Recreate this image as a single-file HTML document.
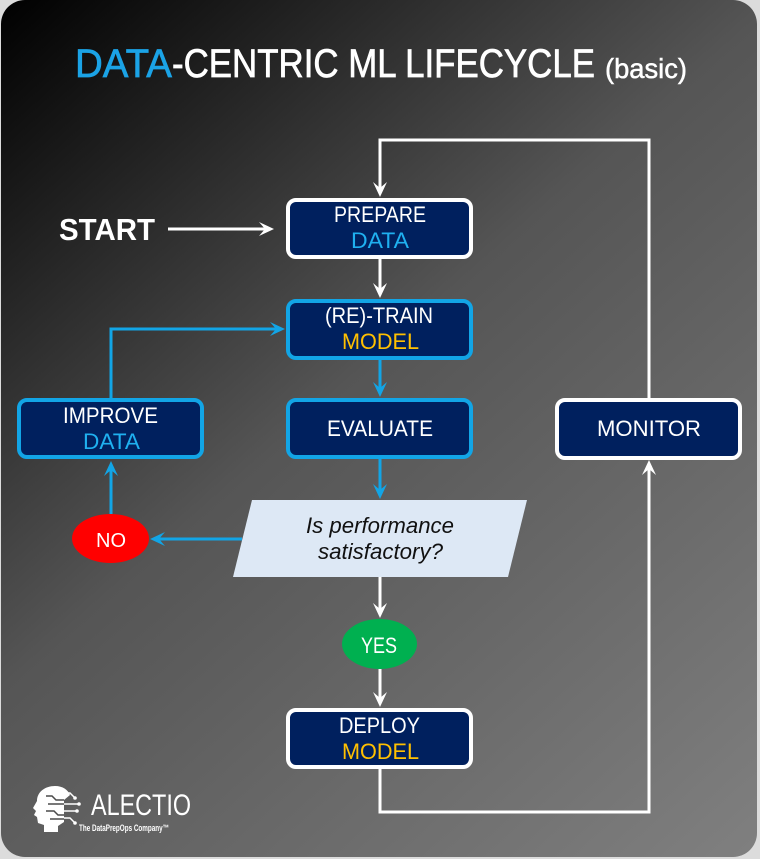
<!DOCTYPE html>
<html>
<head>
<meta charset="utf-8">
<style>
  html, body { margin: 0; padding: 0; width: 760px; height: 859px; overflow: hidden; background: #dcdcdc; }
  svg { display: block; }
  text { font-family: "Liberation Sans", "DejaVu Sans", sans-serif; }
</style>
</head>
<body>
<svg width="760" height="859" viewBox="0 0 760 859" xmlns="http://www.w3.org/2000/svg">
  <defs>
    <linearGradient id="bg" gradientUnits="userSpaceOnUse" x1="0" y1="0" x2="760" y2="859">
      <stop offset="0" stop-color="#000000"/>
      <stop offset="0.45" stop-color="#555555"/>
      <stop offset="1" stop-color="#808080"/>
    </linearGradient>
  </defs>

  <!-- background -->
  <rect x="0" y="0" width="760" height="859" fill="#dcdcdc"/>
  <rect x="1" y="0" width="756" height="857" rx="24" ry="24" fill="url(#bg)"/>

  <!-- title -->
  <text x="75" y="77" font-size="40" fill="#1ba3e6" stroke="#1ba3e6" stroke-width="0.7" textLength="97" lengthAdjust="spacingAndGlyphs">DATA</text>
  <text x="172" y="77" font-size="40" fill="#ffffff" stroke="#ffffff" stroke-width="0.7" textLength="423" lengthAdjust="spacingAndGlyphs">-CENTRIC ML LIFECYCLE</text>
  <text x="605" y="78" font-size="28" fill="#ffffff" stroke="#ffffff" stroke-width="0.5" textLength="82" lengthAdjust="spacingAndGlyphs">(basic)</text>

  <!-- white connectors -->
  <g fill="none" stroke="#ffffff" stroke-width="3">
    <polyline points="649,398 649,140 380,140 380,189"/>
    <line x1="168" y1="229" x2="266" y2="229"/>
    <line x1="380" y1="259" x2="380" y2="290"/>
    <line x1="380" y1="577" x2="380" y2="610"/>
    <line x1="380" y1="669" x2="380" y2="699"/>
    <polyline points="380,769 380,812 649,812 649,468"/>
  </g>
  <g fill="#ffffff">
    <path d="M380,197 L373,182 L380,188 L387,182 Z"/>
    <path d="M274,229 L259,222 L265,229 L259,236 Z"/>
    <path d="M380,298 L373,283 L380,289 L387,283 Z"/>
    <path d="M380,618 L373,603 L380,609 L387,603 Z"/>
    <path d="M380,707 L373,692 L380,698 L387,692 Z"/>
    <path d="M649,460 L642,475 L649,469 L656,475 Z"/>
  </g>

  <!-- blue connectors -->
  <g fill="none" stroke="#12a5e6" stroke-width="3">
    <line x1="380" y1="360" x2="380" y2="389"/>
    <polyline points="111,398 111,329 277,329"/>
    <line x1="380" y1="459" x2="380" y2="491"/>
    <line x1="242" y1="539" x2="158" y2="539"/>
    <line x1="111" y1="514" x2="111" y2="469"/>
  </g>
  <g fill="#12a5e6">
    <path d="M380,397 L373,382 L380,388 L387,382 Z"/>
    <path d="M285,329 L270,322 L276,329 L270,336 Z"/>
    <path d="M380,499 L373,484 L380,490 L387,484 Z"/>
    <path d="M150,539 L165,532 L159,539 L165,546 Z"/>
    <path d="M111,461 L104,476 L111,470 L118,476 Z"/>
  </g>

  <!-- boxes -->
  <g fill="#00205e" stroke-width="4">
    <rect x="288" y="200" width="183" height="57" rx="8" stroke="#ffffff"/>
    <rect x="288" y="301" width="183" height="57" rx="8" stroke="#12a5e6"/>
    <rect x="288" y="400" width="183" height="57" rx="8" stroke="#12a5e6"/>
    <rect x="19" y="400" width="183" height="57" rx="8" stroke="#12a5e6"/>
    <rect x="557" y="400" width="183" height="58" rx="8" stroke="#ffffff"/>
    <rect x="288" y="710" width="183" height="57" rx="8" stroke="#ffffff"/>
  </g>

  <!-- box labels -->
  <g font-size="22">
    <text x="334" y="222" fill="#ffffff" textLength="92" lengthAdjust="spacingAndGlyphs">PREPARE</text>
    <text x="351" y="248" fill="#1fb0f0" textLength="58" lengthAdjust="spacingAndGlyphs">DATA</text>
    <text x="325" y="323" fill="#ffffff" textLength="108" lengthAdjust="spacingAndGlyphs">(RE)-TRAIN</text>
    <text x="342" y="349" fill="#ffc000" textLength="77" lengthAdjust="spacingAndGlyphs">MODEL</text>
    <text x="327" y="436" fill="#ffffff" textLength="106" lengthAdjust="spacingAndGlyphs">EVALUATE</text>
    <text x="63" y="423" fill="#ffffff" textLength="95" lengthAdjust="spacingAndGlyphs">IMPROVE</text>
    <text x="83" y="449" fill="#1fb0f0" textLength="57" lengthAdjust="spacingAndGlyphs">DATA</text>
    <text x="597" y="436" fill="#ffffff" textLength="104" lengthAdjust="spacingAndGlyphs">MONITOR</text>
    <text x="339" y="733" fill="#ffffff" textLength="81" lengthAdjust="spacingAndGlyphs">DEPLOY</text>
    <text x="342" y="759" fill="#ffc000" textLength="77" lengthAdjust="spacingAndGlyphs">MODEL</text>
  </g>

  <!-- START -->
  <text x="59" y="240" font-size="31" font-weight="bold" fill="#ffffff" textLength="96" lengthAdjust="spacingAndGlyphs">START</text>

  <!-- decision -->
  <polygon points="252,500 527,500 508,577 233,577" fill="#dde8f5"/>
  <text x="306" y="533" font-size="22" font-style="italic" fill="#111111" textLength="148" lengthAdjust="spacingAndGlyphs">Is performance</text>
  <text x="318" y="559" font-size="22" font-style="italic" fill="#111111" textLength="125" lengthAdjust="spacingAndGlyphs">satisfactory?</text>

  <!-- NO / YES -->
  <ellipse cx="110.5" cy="538.5" rx="38.5" ry="24.5" fill="#ff0000"/>
  <text x="96" y="547" font-size="20" fill="#ffffff" textLength="30" lengthAdjust="spacingAndGlyphs">NO</text>
  <ellipse cx="379.5" cy="644" rx="37.5" ry="25" fill="#00b050"/>
  <text x="361" y="653" font-size="22" fill="#ffffff" textLength="36" lengthAdjust="spacingAndGlyphs">YES</text>

  <!-- logo -->
  <g>
    <path d="M44,832 L44,825 L38,823 L37,817 L34,815 L36,811 L33,808 L37,801 C37,792 45,786 55,786 C63,786 68,790 70,795 L64,800 L64,822 L58,826 L58,832 Z" fill="#ffffff"/>
    <g stroke="#4a4a4a" stroke-width="1.5" fill="none">
      <polyline points="46,796 52,796 56,800 64,800"/>
      <polyline points="48,804 64,804"/>
      <polyline points="46,811 54,811 58,815 64,815"/>
      <polyline points="50,819 64,819"/>
    </g>
    <g stroke="#ffffff" stroke-width="1.5" fill="none">
      <polyline points="64,793 70,793 74,797"/>
      <polyline points="64,804 78,804"/>
      <polyline points="64,811 76,811"/>
      <polyline points="64,818 70,818 74,822"/>
    </g>
    <g fill="#ffffff">
      <circle cx="75" cy="798" r="1.8"/>
      <circle cx="79" cy="804" r="1.8"/>
      <circle cx="77" cy="811" r="1.8"/>
      <circle cx="75" cy="823" r="1.8"/>
    </g>
    <text x="91" y="815" font-size="30" fill="#ffffff" textLength="100" lengthAdjust="spacingAndGlyphs">ALECTIO</text>
    <text x="79" y="831" font-size="9" font-weight="bold" fill="#ffffff" textLength="90" lengthAdjust="spacingAndGlyphs">The DataPrepOps Company™</text>
  </g>
</svg>
</body>
</html>
